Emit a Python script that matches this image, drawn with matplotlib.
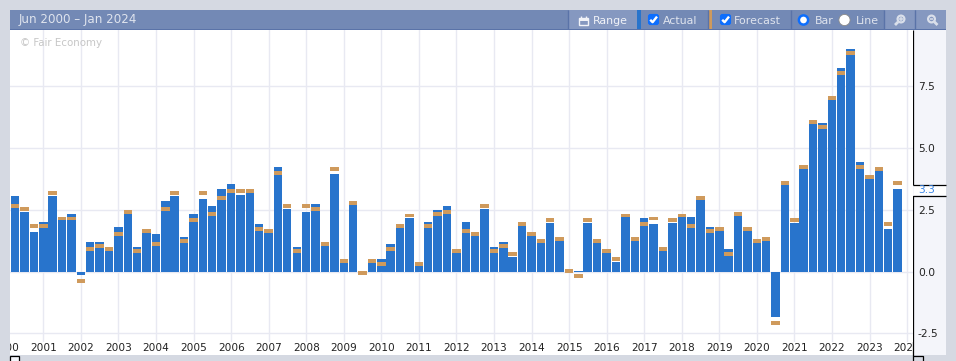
import pandas as pd
import matplotlib
matplotlib.use("Agg")
import matplotlib.pyplot as plt
import matplotlib.dates as mdates
from matplotlib.patches import Rectangle, Circle, FancyBboxPatch
from matplotlib.transforms import Bbox

# trimestres, abr 2000 -> oct 2023
fechas = pd.date_range("2000-04-01", "2023-10-01", freq="QS")

actual = [3.04, 2.43, 1.62,
          2.02, 3.08, 2.07, 2.35,
          -0.13, 1.21, 1.21, 0.84,
          1.82, 2.35, 1.00, 1.58,
          1.54, 2.84, 3.08, 1.41,
          2.35, 2.92, 2.64, 3.33,
          3.53, 3.12, 3.17, 1.94,
          1.58, 4.23, 2.55, 1.00,
          2.43, 2.72, 1.05, 3.95,
          0.35, 2.68, -0.03, 0.35,
          0.52, 1.13, 1.78, 2.15,
          0.23, 2.02, 2.51, 2.64,
          0.76, 2.02, 1.45, 2.55,
          1.00, 1.21, 0.60, 1.86,
          1.45, 1.17, 1.98, 1.25,
          0.00, 0.03, 1.98, 1.17,
          0.76, 0.39, 2.19, 1.25,
          2.15, 1.94, 0.84, 1.98,
          2.19, 2.23, 2.88, 1.82,
          1.66, 0.92, 2.27, 1.66,
          1.17, 1.25, -1.83, 3.49,
          1.98, 4.17, 5.98, 6.02,
          6.95, 8.24, 9.00, 4.45,
          3.76, 4.09, 1.74, 3.33]

forecast = [2.64, 2.55, 1.86,
            1.86, 3.17, 2.15, 2.15,
            -0.38, 0.92, 1.05, 0.92,
            1.54, 2.43, 0.84, 1.66,
            1.13, 2.55, 3.17, 1.25,
            2.07, 3.17, 2.35, 2.96,
            3.25, 3.25, 3.25, 1.74,
            1.66, 3.98, 2.64, 0.84,
            2.64, 2.55, 1.13, 4.15,
            0.43, 2.76, -0.05, 0.43,
            0.31, 0.92, 1.86, 2.27,
            0.31, 1.86, 2.35, 2.43,
            0.84, 1.66, 1.54, 2.64,
            0.84, 1.05, 0.72, 1.94,
            1.54, 1.25, 2.07, 1.33,
            0.03, -0.18, 2.07, 1.25,
            0.84, 0.52, 2.27, 1.33,
            1.94, 2.15, 0.92, 2.07,
            2.27, 1.86, 2.96, 1.66,
            1.74, 0.72, 2.35, 1.74,
            1.25, 1.33, -2.09, 3.57,
            2.07, 4.25, 6.06, 5.86,
            7.03, 8.04, 8.84, 4.25,
            3.84, 4.17, 1.94, 3.57]

anios = list(range(2000, 2025))
etiquetas_x = [str(a) for a in anios]
ticks_y = [-2.5, 0.0, 2.5, 5.0, 7.5]
ultimo = 3.3

AZUL = "#2874cc"
TAN = "#cf9a5c"
GRIS = "#d5d9e2"
GRILLA = "#e8e9f2"
BANDA = "#7389b5"
BOTON = "#8598c0"
LINEA = "#5a73a8"
TEXTO = "#dfe4ee"

W, H = 956, 361
fig = plt.figure(figsize=(W / 100, H / 100), dpi=100, facecolor=GRIS)

# capa de fondo en pixeles, con la barra superior y el panel derecho
ui = fig.add_axes([0, 0, 1, 1], zorder=0)
ui.set_xlim(0, W)
ui.set_ylim(H, 0)
ui.axis("off")


def rect(x0, y0, x1, y1, color, **kw):
    ui.add_patch(Rectangle((x0, y0), x1 - x0, y1 - y0, facecolor=color, edgecolor="none", **kw))


def linea(xs, ys, color="black", lw=0.9, **kw):
    ui.plot(xs, ys, color=color, lw=lw, solid_capstyle="butt", **kw)


def check(x, y):
    ui.add_patch(FancyBboxPatch((x + 1.5, y + 1.5), 10, 10, boxstyle="round,pad=0,rounding_size=2",
                                facecolor="#0d6efd", edgecolor="#0d6efd", lw=0.8))
    linea([x + 3.2, x + 5.6, x + 10], [y + 6.8, y + 9.2, y + 3.6], color="white", lw=1.7)


def lupa(x, y, signo):
    ui.add_patch(Circle((x, y), 3.4, facecolor="none", edgecolor="#d9dfea", lw=1.6))
    if signo == "+":
        linea([x - 2.8, x - 6], [y + 2.8, y + 6], color="#d9dfea", lw=2)
        linea([x, x], [y - 1.8, y + 1.8], color="#d9dfea", lw=1.1)
    else:
        linea([x + 2.8, x + 6], [y + 2.8, y + 6], color="#d9dfea", lw=2)
    linea([x - 1.8, x + 1.8], [y, y], color="#d9dfea", lw=1.1)


rect(10, 30, 913, 355, "white")
rect(913, 30, 946, 355, "#f4f5fa")
rect(10, 10, 946, 29, BANDA)
rect(10, 29, 946, 30, LINEA)
rect(569, 10, 637, 29, BOTON)
rect(885, 10, 915, 29, BOTON)
rect(916, 10, 946, 29, BOTON)
rect(637, 10, 641, 29, AZUL)
rect(709, 10, 712, 29, TAN)
for xs in [568, 708, 791, 884, 915]:
    linea([xs + 0.5, xs + 0.5], [10, 29], color=LINEA, lw=1)

ui.text(19, 20, "Jun 2000 – Jan 2024", color=TEXTO, fontsize=8.6, va="center")
ui.text(592.5, 20.5, "Range", color="#f1f3f8", fontsize=7.9, va="center")
ui.text(663, 20.5, "Actual", color=TEXTO, fontsize=7.9, va="center")
ui.text(734, 20.5, "Forecast", color=TEXTO, fontsize=7.9, va="center")
ui.text(815, 20.5, "Bar", color=TEXTO, fontsize=7.9, va="center")
ui.text(856, 20.5, "Line", color=TEXTO, fontsize=7.9, va="center")

# icono de calendario
ui.add_patch(Rectangle((579, 18), 9.5, 6.5, facecolor="none", edgecolor="#f1f3f8", lw=1))
rect(579, 18, 588.5, 20.5, "#f1f3f8")
for xs in [581, 586.5]:
    linea([xs, xs], [15.5, 18], color="#f1f3f8", lw=1)

check(647, 13)
check(719, 13)
ui.add_patch(Circle((803.5, 20), 4.6, facecolor="white", edgecolor="#0d6efd", lw=1.8))
ui.add_patch(Circle((844.5, 20), 5.6, facecolor="white", edgecolor="#8a8a8a", lw=0.6))
lupa(901, 19, "+")
lupa(931.5, 19, "-")

# borde derecho con el recuadro del ultimo valor
rect(913.7, 185, 946, 195, "white")
linea([913.5, 913.5], [30, 184.5])
linea([913.5, 946], [184.5, 184.5])
linea([946, 913.5, 913.5], [195.5, 195.5, 355.5])
# tiradores inferiores
rect(10, 355, 946, 361, GRIS)
ui.add_patch(Rectangle((10, 355.5), 9.5, 6, facecolor="#f4f5fa", edgecolor="black", lw=0.9))
ui.add_patch(Rectangle((913.5, 355.5), 9.5, 6, facecolor=GRIS, edgecolor="black", lw=0.9))
ui.text(918, 190, str(ultimo), color="#3a86e8", fontsize=7.7, va="center")

# grafico principal
ax = fig.add_axes([10 / W, 1 - 342 / H, 903 / W, 312 / H], zorder=1)
ax.set_axisbelow(True)
ax.grid(True, color=GRILLA, lw=1)

x = mdates.date2num(fechas)
ax.bar(x, actual, width=82, color=AZUL, zorder=2)
ax.bar(x, [0.16] * len(forecast), bottom=[f - 0.08 for f in forecast], width=82, color=TAN, zorder=3)

pos_x = mdates.date2num([pd.Timestamp(a, 1, 1) for a in anios])
ax.set_xticks(pos_x)
ax.set_xticklabels(etiquetas_x, fontsize=7.6, color="#222222")
ax.tick_params(axis="x", length=0, pad=0.5)
ax.yaxis.tick_right()
ax.set_yticks(ticks_y)
ax.set_yticklabels([f"{t:.1f}" for t in ticks_y], fontsize=7.7, color="#222222")
ax.tick_params(axis="y", length=0, pad=3.5)
for s in ax.spines.values():
    s.set_visible(False)

# los limites van despues de set_xticks, que los ensancha
ax.set_ylim(-2.85, 9.78)
ax.set_xlim(mdates.date2num(pd.Timestamp("2000-02-11")), mdates.date2num(pd.Timestamp("2024-02-28")))

# etiquetas de los extremos cortadas por el borde del grafico
recorte = Bbox([[10, 0], [913, H]])
for lab in ax.get_xticklabels():
    lab.set_clip_box(recorte)
    lab.set_clip_on(True)

# el tick de 2000 cae fuera de la vista, matplotlib no lo dibuja
t2000 = ax.text(pos_x[0], -5.8 / 312, etiquetas_x[0], transform=ax.get_xaxis_transform(), fontsize=7.6,
                color="#222222", ha="center", va="center", clip_on=True)
t2000.set_clip_path(None)
t2000.set_clip_box(recorte)

ax.text(20 / W, 1 - 43 / H, "© Fair Economy", transform=fig.transFigure, color="#c6c6c6", fontsize=7.4,
        va="center", zorder=1)

fig.savefig("out.png", dpi=100, facecolor=GRIS)
